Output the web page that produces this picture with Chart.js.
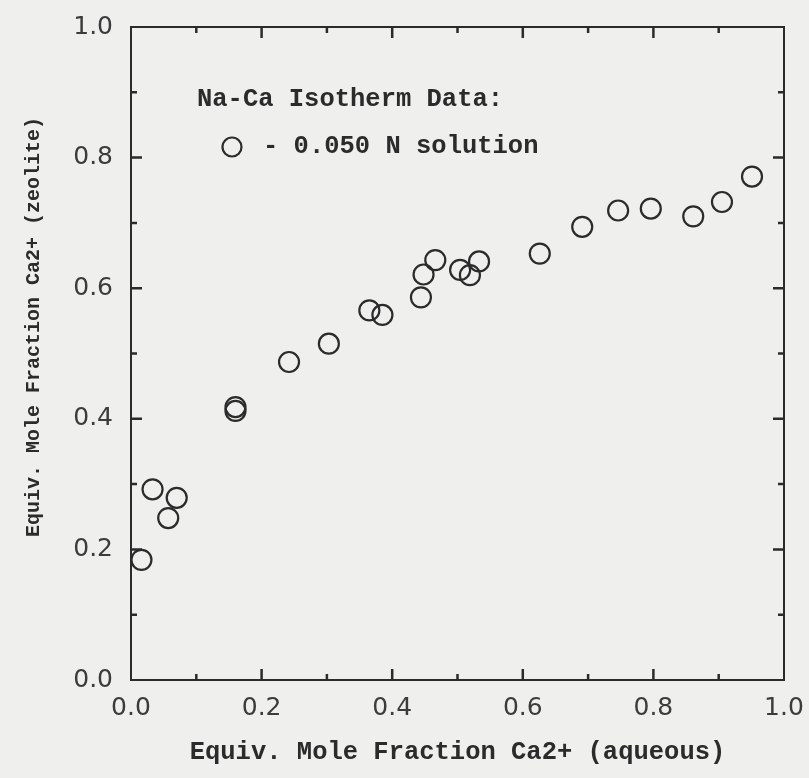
<!DOCTYPE html>
<html lang="en">
<head>
    <meta charset="UTF-8">
    <title>Na-Ca Isotherm Data</title>
    <script src="https://cdn.jsdelivr.net/npm/chart.js@4.4.0/dist/chart.umd.min.js"></script>
    <style>
        body { margin: 0; background: #efefed; }
    </style>
</head>
<body>
<canvas id="myChart" width="809" height="778"></canvas>
<script>

    // equiv. mole fraction Ca2+ in solution / in zeolite, 0.050 N
    const xValues = [0.016, 0.033, 0.057, 0.070, 0.160, 0.160, 0.242, 0.303, 0.365, 0.385, 0.444, 0.448,
                     0.466, 0.504, 0.519, 0.533, 0.626, 0.691, 0.746, 0.796, 0.861, 0.905, 0.951];
    const yValues = [0.184, 0.292, 0.248, 0.279, 0.418, 0.412, 0.487, 0.515, 0.566, 0.559, 0.586, 0.621,
                     0.643, 0.628, 0.620, 0.641, 0.653, 0.694, 0.719, 0.722, 0.710, 0.732, 0.771];
    const tickValues = [0.0, 0.2, 0.4, 0.6, 0.8, 1.0];
    const xTitle = "Equiv. Mole Fraction Ca2+ (aqueous)";
    const yTitle = "Equiv. Mole Fraction Ca2+ (zeolite)";
    const legendTitle = "Na-Ca Isotherm Data:";
    const seriesName = "- 0.050 N solution";

    const ink = "#2b2b2b";
    const tickFont = { family: "DejaVu Sans", size: 25 };

    // frame, inward ticks, y title and the little legend
    const framePlugin = {
        id: "frame",
        afterDraw(chart) {
            const ctx = chart.ctx;
            const a = chart.chartArea;
            const xs = chart.scales.x, ys = chart.scales.y;
            ctx.save();
            ctx.strokeStyle = ink;
            ctx.lineWidth = 2;
            ctx.strokeRect(a.left, a.top, a.right - a.left, a.bottom - a.top);

            ctx.lineWidth = 2.5;
            for (let i = 1; i < 10; i++) {
                const v = i / 10;
                const len = i % 2 === 0 ? 11 : 6;
                const px = xs.getPixelForValue(v);
                const py = ys.getPixelForValue(v);
                ctx.beginPath();
                ctx.moveTo(px, a.bottom); ctx.lineTo(px, a.bottom - len);
                ctx.moveTo(px, a.top); ctx.lineTo(px, a.top + len);
                ctx.moveTo(a.left, py); ctx.lineTo(a.left + len, py);
                ctx.moveTo(a.right, py); ctx.lineTo(a.right - len, py);
                ctx.stroke();
            }

            ctx.fillStyle = ink;
            ctx.font = "bold 20px 'Liberation Mono'";
            ctx.textAlign = "center";
            ctx.textBaseline = "middle";
            ctx.save();
            ctx.translate(34, a.top + 300);
            ctx.rotate(-Math.PI / 2);
            ctx.fillText(yTitle, 0, 0);
            ctx.restore();

            ctx.font = "bold 25.5px 'Liberation Mono'";
            ctx.textAlign = "left";
            ctx.fillText(legendTitle, a.left + 66, a.top + 73);
            ctx.fillText(seriesName, a.left + 132, a.top + 120);
            ctx.lineWidth = 2.2;
            ctx.beginPath();
            ctx.arc(a.left + 101, a.top + 120, 9.5, 0, Math.PI * 2);
            ctx.stroke();
            ctx.restore();
        }
    };

    const points = xValues.map((x, i) => ({ x: x, y: yValues[i] }));

    const myChart = new Chart("myChart", {
        type: "scatter",
        data: {
            datasets: [{
                label: seriesName,
                data: points,
                pointStyle: "circle",
                pointRadius: 10,
                pointHoverRadius: 10,
                pointBorderWidth: 2.2,
                borderColor: ink,
                backgroundColor: "rgba(0,0,0,0)"
            }]
        },
        options: {
            responsive: false,
            animation: false,
            layout: { padding: { top: 27, right: 25, left: 0, bottom: 0 } },
            plugins: {
                legend: { display: false },
                tooltip: { enabled: false }
            },
            scales: {
                x: {
                    type: "linear",
                    min: 0,
                    max: 1,
                    afterFit: (s) => { s.height = 98; s.paddingLeft = 0; s.paddingRight = 0; },
                    afterBuildTicks: (s) => { s.ticks = tickValues.map(v => ({ value: v })); },
                    grid: { display: false, drawTicks: false },
                    border: { display: false },
                    ticks: {
                        padding: 13,
                        color: "#3c3c3c",
                        font: tickFont,
                        callback: (v) => v.toFixed(1)
                    },
                    title: {
                        display: true,
                        text: xTitle,
                        color: ink,
                        font: { family: "Liberation Mono", size: 25.5, weight: "bold" },
                        padding: { top: 0, bottom: 10 }
                    }
                },
                y: {
                    type: "linear",
                    min: 0,
                    max: 1,
                    afterFit: (s) => { s.width = 131; s.paddingTop = 0; s.paddingBottom = 0; },
                    afterBuildTicks: (s) => { s.ticks = tickValues.map(v => ({ value: v })); },
                    grid: { display: false, drawTicks: false },
                    border: { display: false },
                    ticks: {
                        padding: 18,
                        color: "#3c3c3c",
                        font: tickFont,
                        callback: (v) => v.toFixed(1)
                    }
                }
            }
        },
        plugins: [framePlugin]
    });
</script>
</body>
</html>
